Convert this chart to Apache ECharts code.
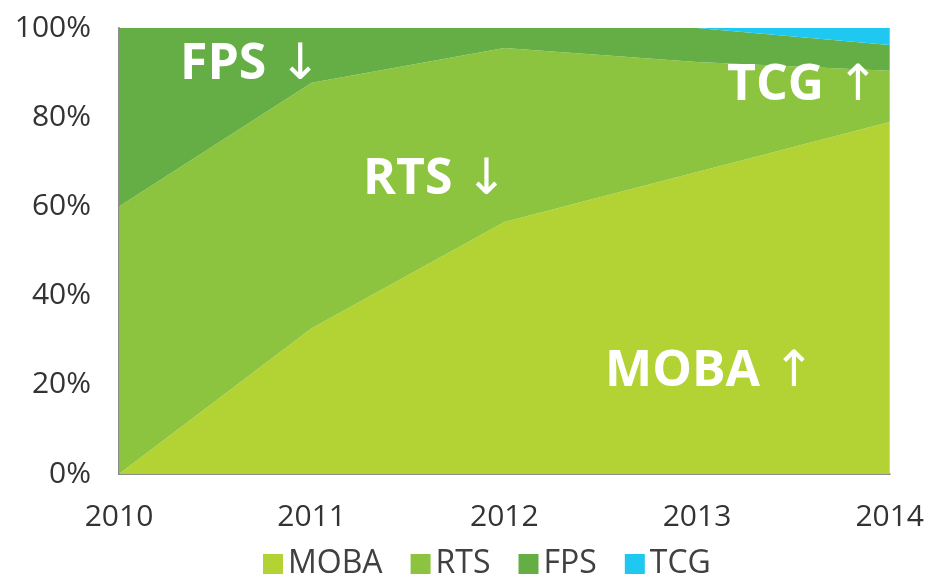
<!DOCTYPE html>
<html>
<head>
<meta charset="utf-8">
<script src="https://cdn.jsdelivr.net/npm/echarts@6/dist/echarts.min.js"></script>
<style>
  html, body { margin: 0; padding: 0; background: #fff; }
  #main { width: 927px; height: 574px; }
</style>
</head>
<body>
<div id="main"></div>
<script>
// share of each genre, percent
const years = ["2010", "2011", "2012", "2013", "2014"];
const moba = [0, 32.7, 56.5, 67.7, 78.9];
const rts = [60, 55, 39, 24.7, 11.5];
const fps = [40, 12.3, 4.5, 7.6, 5.8];
const tcg = [0, 0, 0, 0, 3.8];

const colors = ["#b3d234", "#8cc43f", "#65ae46", "#1ec8f0"];
const font = "'Open Sans', 'DejaVu Sans', sans-serif";

const chart = echarts.init(document.getElementById("main"));

function area(name, data) {
  return {
    name: name,
    type: "line",
    stack: "all",
    data: data,
    symbol: "none",
    lineStyle: { width: 0 },
    areaStyle: { opacity: 1 }
  };
}

// white callout: bold word plus a thin arrow
function tag(word, arrow, x, y) {
  return {
    type: "text",
    left: x,
    top: y,
    z: 100,
    style: {
      text: "{w|" + word + " }{a|" + arrow + "}",
      rich: {
        w: { fill: "#fff", fontSize: 50, fontWeight: "bold", fontFamily: font },
        a: { fill: "#fff", fontSize: 50, fontWeight: "normal", fontFamily: "'Noto Sans', 'DejaVu Sans', sans-serif" }
      }
    }
  };
}

chart.setOption({
  animation: false,
  color: colors,
  grid: { left: 119, right: 37, top: 28, bottom: 100 },
  legend: {
    top: 543,
    left: 258,
    icon: "rect",
    itemWidth: 20,
    itemHeight: 20,
    itemGap: 28,
    textStyle: { color: "#404040", fontSize: 32, fontFamily: font, padding: [0, 0, 0, 0] }
  },
  xAxis: {
    type: "category",
    data: years,
    boundaryGap: false,
    axisLine: { lineStyle: { color: "#8a8a8a", width: 2 } },
    axisTick: { show: false },
    axisLabel: { color: "#333", fontSize: 30, fontFamily: font, margin: 28 }
  },
  yAxis: {
    type: "value",
    min: 0,
    max: 100,
    interval: 20,
    axisLine: { show: true, lineStyle: { color: "#8a8a8a", width: 2 } },
    axisTick: { show: false },
    splitLine: { show: false },
    axisLabel: { color: "#333", fontSize: 30, fontFamily: font, margin: 28, formatter: "{value}%" }
  },
  series: [
    area("MOBA", moba),
    area("RTS", rts),
    area("FPS", fps),
    area("TCG", tcg)
  ],
  graphic: [
    tag("FPS", "↓", 180, 40),
    tag("RTS", "↓", 363, 155),
    tag("TCG", "↑", 727, 61),
    tag("MOBA", "↑", 605, 347)
  ]
});
</script>
</body>
</html>
